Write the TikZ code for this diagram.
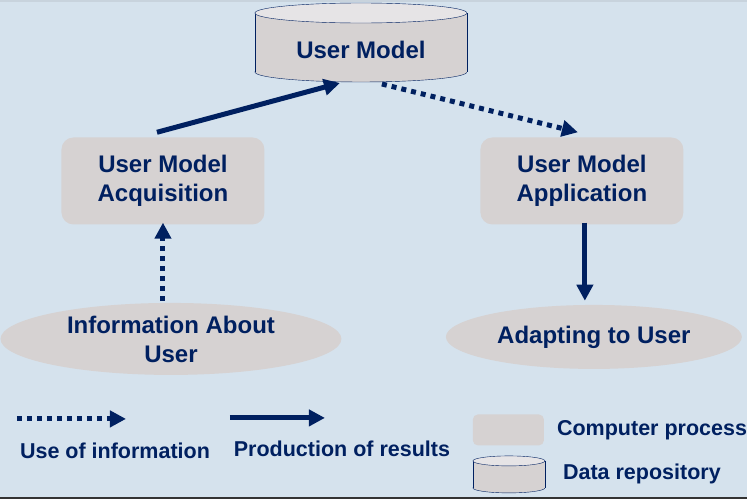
\documentclass[tikz,border=0pt]{standalone}
\usepackage{fontspec}
\setmainfont{Liberation Sans}
\usetikzlibrary{shapes, arrows.meta, positioning}

\definecolor{bgblue}{RGB}{213,226,237}
\definecolor{boxgrey}{RGB}{214,210,210}
\definecolor{lidgrey}{RGB}{230,228,230}
\definecolor{navy}{RGB}{0,32,96}

\begin{document}
\begin{tikzpicture}[x=1pt,y=-1pt,
 font=\bfseries\fontsize{24}{29}\selectfont, text=navy,
 proc node/.style={rectangle,rounded corners=12pt,fill=boxgrey,
   minimum width=203pt,minimum height=87pt,align=center},
 info node/.style={ellipse,fill=boxgrey,inner sep=0pt,align=center},
 legend text/.style={font=\bfseries\fontsize{21.5}{25}\selectfont,inner sep=0pt},
 use arrow/.style={draw=navy,line width=5pt,dash pattern=on 5pt off 5pt,
   -{Triangle[length=16pt,width=16pt]}},
 prod arrow/.style={draw=navy,line width=5pt,
   -{Triangle[length=16pt,width=16pt]}}]
 % background and frame lines
 \fill[bgblue] (0,0) rectangle (747,499);
 \fill[bgblue!85!gray] (0,0) rectangle (747,1.5);
 \fill[black!80] (0,497) rectangle (747,499);

 % data repositories (big one and legend one)
 \foreach \cx/\ty/\by/\rx/\ry in {361/13/72/106/10, 509/461/488/36/5}{
     \filldraw[draw=navy,fill=boxgrey] (\cx,\by) ellipse[x radius=\rx,y radius=\ry];
     \fill[boxgrey] (\cx-\rx,\ty) rectangle (\cx+\rx,\by);
     \draw[navy] (\cx-\rx,\ty) -- (\cx-\rx,\by) (\cx+\rx,\ty) -- (\cx+\rx,\by);
     \filldraw[draw=navy,fill=lidgrey] (\cx,\ty) ellipse[x radius=\rx,y radius=\ry];}

 \node (um) at (361,50) {User Model};
 \coordinate (um in) at (340,83);
 \coordinate (um out) at (382,84);

 \node[proc node] (acq) at (163,181) {User Model\\Acquisition};
 \node[proc node] (app) at (582,181) {User Model\\Application};
 \node[info node,minimum width=341pt,minimum height=72pt] (info) at (171,339)
     {Information About\\User};
 \node[info node,minimum width=296pt,minimum height=64pt] (adapt) at (594,337)
     {Adapting to User};

 % connectors
 \path[prod arrow] ([xshift=-6pt,yshift=5pt]acq.north) -- (um in);
 \path[use arrow] (um out) -- ([xshift=-4pt,yshift=5pt]app.north);
 \path[use arrow] ([yshift=2pt]acq.south |- info.north) -- ([yshift=2pt]acq.south);
 \path[prod arrow] ([xshift=3pt,yshift=2pt]app.south) -- ([xshift=3pt,yshift=4pt]app.south |- adapt.north);

 % legend
 \coordinate (use a) at (17,419);
 \coordinate (use b) at (126,419);
 \coordinate (prod a) at (230,418);
 \coordinate (prod b) at (325,418);
 \path[use arrow] (use a) -- (use b);
 \path[prod arrow] (prod a) -- (prod b);
 \node[legend text] (use lbl) at (115,451) {Use of information};
 \node[legend text] (prod lbl) at (342,449) {Production of results};

 \node[rectangle,rounded corners=5pt,fill=boxgrey,minimum width=71pt,
     minimum height=31pt] (lg proc) at (508.5,430) {};
 \node[legend text,anchor=west] (proc lbl) at (557,430) {Computer process};
 \node[legend text,anchor=west] (repo lbl) at (563,474) {Data repository};
\end{tikzpicture}
\end{document}
